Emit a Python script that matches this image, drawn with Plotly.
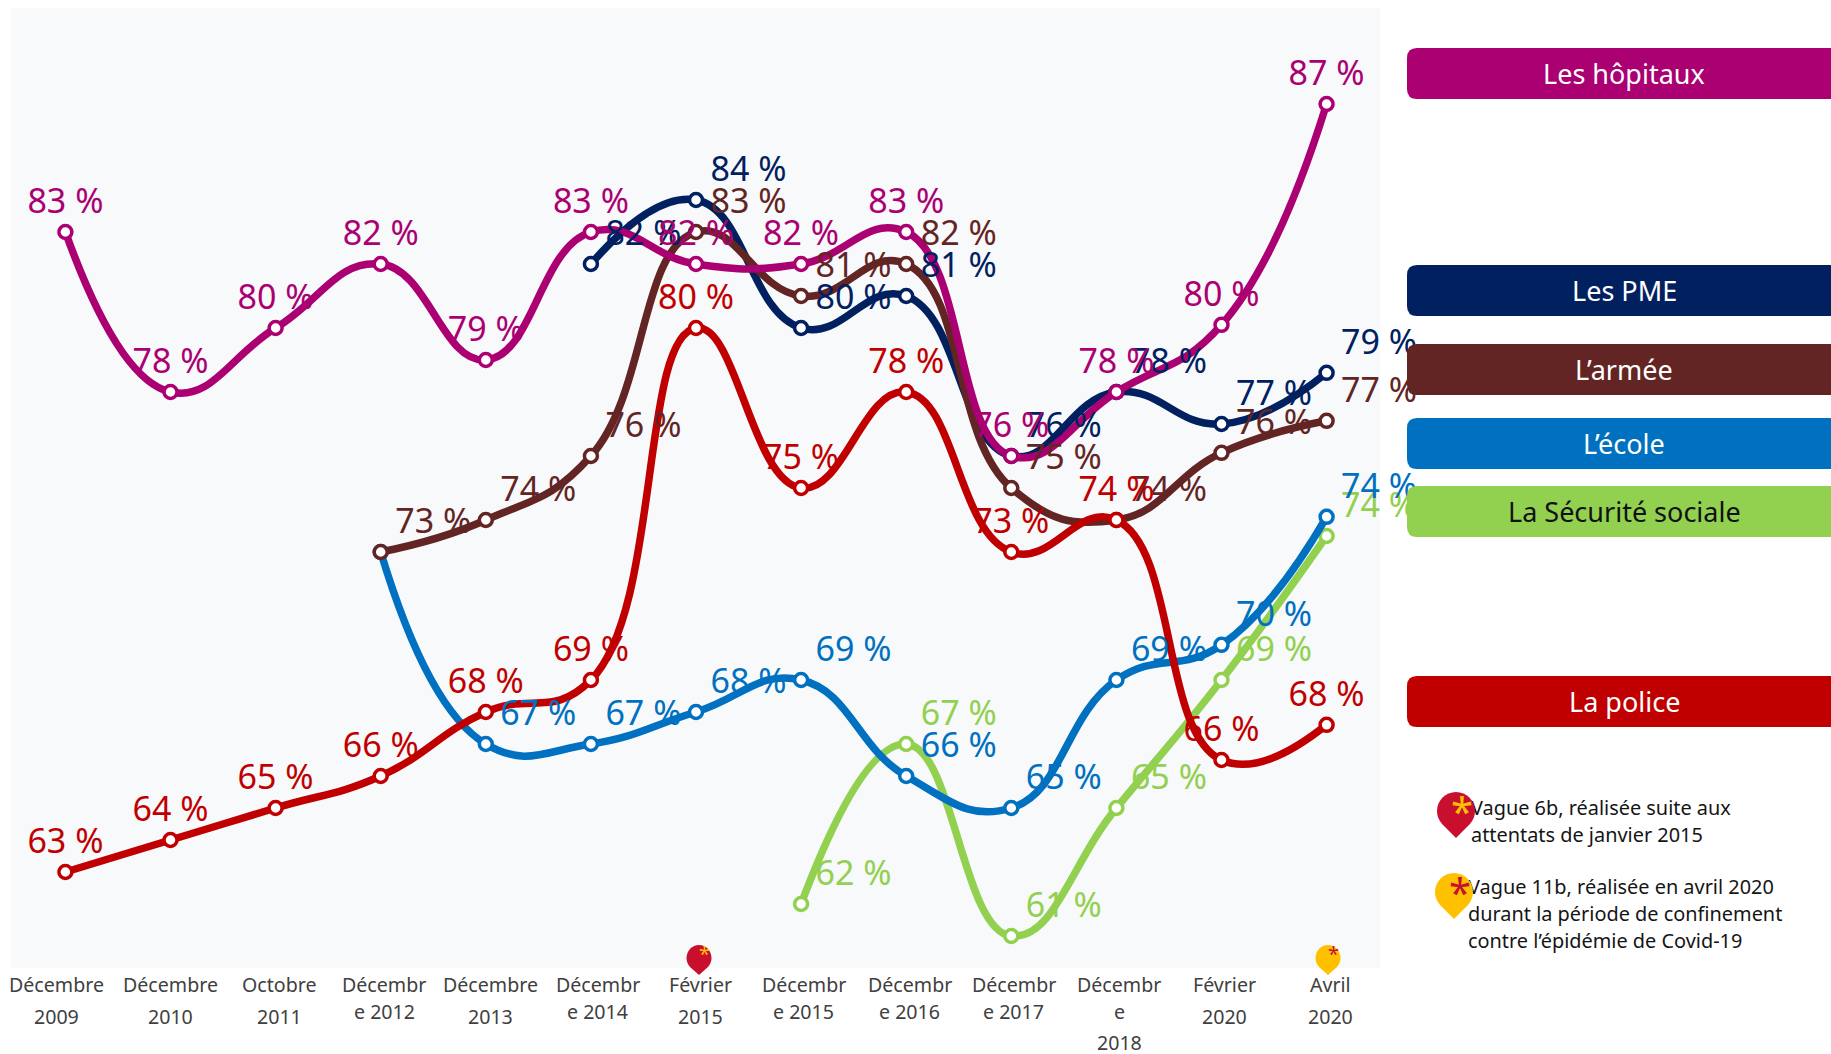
import plotly.graph_objects as go

# ---------- data ----------
waves = ["Décembre 2009", "Décembre 2010", "Octobre 2011", "Décembre 2012", "Décembre 2013",
         "Décembre 2014", "Février 2015", "Décembre 2015", "Décembre 2016", "Décembre 2017",
         "Décembre 2018", "Février 2020", "Avril 2020"]
tick_lines = [["Décembre", "2009"], ["Décembre", "2010"], ["Octobre", "2011"], ["Décembr", "e 2012"],
              ["Décembre", "2013"], ["Décembr", "e 2014"], ["Février", "2015"], ["Décembr", "e 2015"],
              ["Décembr", "e 2016"], ["Décembr", "e 2017"], ["Décembr", "e", "2018"], ["Février", "2020"],
              ["Avril", "2020"]]
hopitaux = [83, 78, 80, 82, 79, 83, 82, 82, 83, 76, 78, 80.1, 87]
pme = [None, None, None, None, None, 82, 84, 80, 81, 76, 78, 77, 78.6]
armee = [None, None, None, 73, 74, 76, 83, 81, 82, 75, 74, 76.1, 77.1]
ecole = [None, None, None, 73, 67, 67, 68, 69, 66, 65, 69, 70.1, 74.1]
secu = [None, None, None, None, None, None, None, 62, 67, 61, 65, 69, 73.5]
police = [63, 64, 65, 66, 68, 69, 80, 75, 78, 73, 74, 66.5, 67.6]

C_HOP, C_PME, C_ARM, C_ECO, C_SEC, C_POL = "#AB0072", "#002060", "#632523", "#0070C0", "#92D050", "#C00000"
C_PIN_R, C_PIN_Y = "#C8102E", "#FFC000"

# name, values, colour, label side, label omitted at indices
series = {
    "sec": ("La Sécurité sociale", secu, C_SEC, "right", []),
    "eco": ("L’école", ecole, C_ECO, "right", [3]),
    "pme": ("Les PME", pme, C_PME, "right", []),
    "arm": ("L’armée", armee, C_ARM, "right", []),
    "hop": ("Les hôpitaux", hopitaux, C_HOP, "top", []),
    "pol": ("La police", police, C_POL, "top", []),
}
legend_boxes = [("Les hôpitaux", C_HOP, 48, 99, "#FFFFFF"), ("Les PME", C_PME, 265, 316, "#FFFFFF"),
                ("L’armée", C_ARM, 344, 395, "#FFFFFF"), ("L’école", C_ECO, 418, 469, "#FFFFFF"),
                ("La Sécurité sociale", C_SEC, 486, 537, "#111111"), ("La police", C_POL, 676, 727, "#FFFFFF")]
notes = [("Vague 6b, réalisée suite aux", 1471, 810), ("attentats de janvier 2015", 1471, 837),
         ("Vague 11b, réalisée en avril 2020", 1468, 889), ("durant la période de confinement", 1468, 916),
         ("contre l’épidémie de Covid-19", 1468, 943)]

# ---------- geometry ----------
W, H = 1831, 1054
FONT = "Noto Sans"
PL, PR, PT, PB = 11, 1380, 8, 968      # plot rectangle in page pixels
X0, DX = 65.4, 105.1                   # first wave position and spacing
PX_PCT = 32.0
Y_BOTTOM = 60                          # value at the bottom of the plot rectangle
LBL_DX, LBL_DY, TOP_DY = 52.5, 27.5, 27.5
tick_shift = [-9, 0, 3.5, 3.5, 5, 7, 4.5, 2.5, 3.5, 2.5, 3, 2.5, 3.5]

# main axes fill the page, so every overlay can reach the whole page
x_rng = [(0 - X0) / DX, (W - X0) / DX]
y_rng = [Y_BOTTOM - (H - PB) / PX_PCT, Y_BOTTOM + PB / PX_PCT]

fig = go.Figure()
idx = list(range(len(waves)))

for name, vals, col, side, skip in series.values():
    fig.add_trace(go.Scatter(
        x=idx, y=vals, mode="lines+markers", name=name, connectgaps=False,
        line=dict(color=col, width=7.5, shape="spline", smoothing=1.3),
        marker=dict(size=13, color="#FFFFFF", line=dict(color=col, width=3.5)),
        cliponaxis=False, showlegend=False, xaxis="x", yaxis="y"))

# data labels: text traces on overlay axes shifted by the label offset
label_order = ["sec", "eco", "hop", "pme", "arm", "pol"]
for key in label_order:
    name, vals, col, side, skip = series[key]
    txt = [None if (v is None or i in skip) else f"{round(v)} %" for i, v in enumerate(vals)]
    fig.add_trace(go.Scatter(
        x=idx, y=vals, mode="text", text=txt, textposition="middle center",
        textfont=dict(family=FONT, size=34, color=col), cliponaxis=False, showlegend=False,
        xaxis="x2" if side == "right" else "x3", yaxis="y2" if side == "right" else "y3"))

# notes on a page-pixel overlay axis
fig.add_trace(go.Scatter(
    x=[n[1] for n in notes], y=[n[2] for n in notes], text=[n[0] for n in notes], mode="text",
    textposition="middle right", textfont=dict(family=FONT, size=19.9, color="#151515"),
    cliponaxis=False, showlegend=False, xaxis="x4", yaxis="y4"))

# ---------- shapes ----------
def rrect(x0, y0, x1, y1, r):
    return (f"M{x0+r},{y0} L{x1},{y0} L{x1},{y1} L{x0+r},{y1} Q{x0},{y1} {x0},{y1-r} "
            f"L{x0},{y0+r} Q{x0},{y0} {x0+r},{y0} Z")

def pin(cx, cy, rx, ry, tip):
    k = 0.5523
    return (f"M{cx},{tip} L{cx-rx*0.72},{cy+ry*0.7} "
            f"C{cx-rx*0.92},{cy+ry*0.45} {cx-rx},{cy+ry*0.25} {cx-rx},{cy} "
            f"C{cx-rx},{cy-ry*k} {cx-rx*k},{cy-ry} {cx},{cy-ry} "
            f"C{cx+rx*k},{cy-ry} {cx+rx},{cy-ry*k} {cx+rx},{cy} "
            f"C{cx+rx},{cy+ry*0.25} {cx+rx*0.92},{cy+ry*0.45} {cx+rx*0.72},{cy+ry*0.7} Z")

shapes = [dict(type="rect", x0=PL, x1=PR, y0=PT, y1=PB, xref="x4", yref="y4", fillcolor="#F8F9FB",
               line=dict(width=0), layer="below")]
for _, col, y0, y1, _c in legend_boxes:
    shapes.append(dict(type="path", path=rrect(1407, y0, 1831, y1, 10), fillcolor=col, line=dict(width=0),
                       xref="x4", yref="y4", layer="above"))
pins = [(1456, 811, 19, 19, 838, C_PIN_R), (1454, 892, 19, 19, 919, C_PIN_Y),
        (699, 958, 12.5, 13, 975, C_PIN_R), (1328, 958, 12.5, 13, 975, C_PIN_Y)]
for cx, cy, rx, ry, tip, col in pins:
    shapes.append(dict(type="path", path=pin(cx, cy, rx, ry, tip), fillcolor=col, line=dict(width=0),
                       xref="x4", yref="y4", layer="above"))

# ---------- annotations ----------
ann = []
for (label, col, y0, y1, tc) in legend_boxes:
    ann.append(dict(x=1624, y=(y0 + y1) / 2, xref="x4", yref="y4", text=label, showarrow=False,
                    font=dict(family=FONT, size=27, color=tc), xanchor="center", yanchor="middle"))

for i, lines in enumerate(tick_lines):
    for j, line in enumerate(lines):
        wrapped = lines[0] == "Décembr"
        ypx = [984, 1011 if wrapped else 1016, 1042][j]
        ann.append(dict(x=i, xref="x", y=ypx, yref="y4", xshift=tick_shift[i], text=line, showarrow=False,
                        font=dict(family=FONT, size=19.6, color="#404040"), xanchor="center", yanchor="middle"))

stars = [(1462, 810, 40, C_PIN_Y), (1460, 891, 40, C_PIN_R), (704, 953, 20, C_PIN_Y), (1333, 953, 20, C_PIN_R)]
for sx, sy, fs, col in stars:
    ann.append(dict(x=sx, y=sy, xref="x4", yref="y4", text="*", showarrow=False,
                    font=dict(family=FONT, size=fs, color=col), xanchor="center", yanchor="middle"))

hidden = dict(visible=False, fixedrange=True)
full = [0, 1]
fig.update_layout(
    width=W, height=H, margin=dict(l=0, r=0, t=0, b=0), paper_bgcolor="#FFFFFF", plot_bgcolor="rgba(0,0,0,0)",
    font=dict(family=FONT), showlegend=False, shapes=shapes, annotations=ann,
    xaxis=dict(domain=full, range=x_rng, **hidden),
    yaxis=dict(domain=full, range=y_rng, **hidden),
    xaxis2=dict(domain=full, range=[x_rng[0] - LBL_DX / DX, x_rng[1] - LBL_DX / DX], overlaying="x", anchor="y2", **hidden),
    yaxis2=dict(domain=full, range=[y_rng[0] - LBL_DY / PX_PCT, y_rng[1] - LBL_DY / PX_PCT], overlaying="y", anchor="x2", **hidden),
    xaxis3=dict(domain=full, range=x_rng, overlaying="x", anchor="y3", **hidden),
    yaxis3=dict(domain=full, range=[y_rng[0] - TOP_DY / PX_PCT, y_rng[1] - TOP_DY / PX_PCT], overlaying="y", anchor="x3", **hidden),
    xaxis4=dict(domain=full, range=[0, W], overlaying="x", anchor="y4", **hidden),
    yaxis4=dict(domain=full, range=[H, 0], overlaying="y", anchor="x4", **hidden),
)
fig.write_html("out.html", config={"displayModeBar": False},
               post_script="document.body.style.margin='0';document.body.style.overflow='hidden';")
